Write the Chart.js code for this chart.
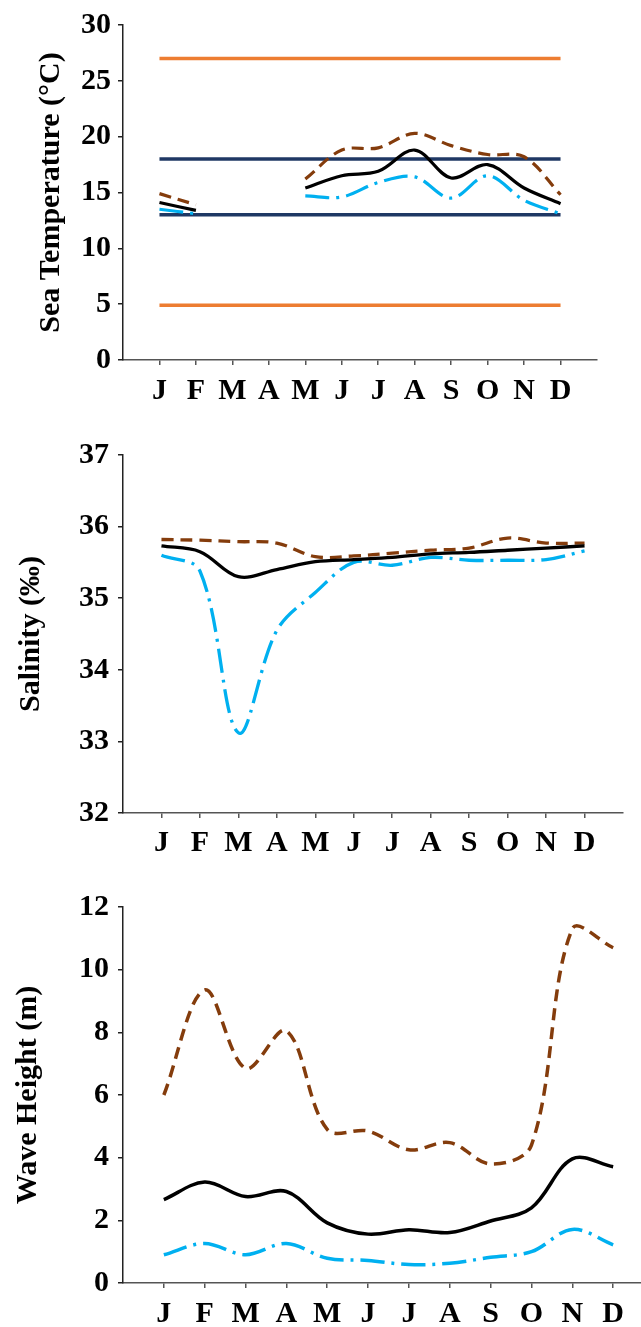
<!DOCTYPE html>
<html>
<head>
<meta charset="utf-8">
<script src="https://cdn.jsdelivr.net/npm/chart.js@4.4.1/dist/chart.umd.min.js"></script>
<style>
html, body { margin:0; padding:0; background:#fff; overflow:hidden; width:641px; height:1327px; }
canvas { position:absolute; left:0; }
</style>
</head>
<body>
<canvas id="tempChart" width="641" height="410" style="top:0"></canvas>
<canvas id="salChart" width="641" height="450" style="top:420px"></canvas>
<canvas id="waveChart" width="660" height="447" style="top:880px"></canvas>
<script>
const months = ["J","F","M","A","M","J","J","A","S","O","N","D"];

// sea temperature (°C), no data for March / April
const tempMax  = [14.9, 13.9, null, null, 16.2, 18.8, 19.0, 20.3, 19.2, 18.4, 18.2, 14.8];
const tempMean = [14.1, 13.4, null, null, 15.4, 16.5, 16.9, 18.8, 16.3, 17.5, 15.4, 14.0];
const tempMin  = [13.5, 13.1, null, null, 14.7, 14.6, 15.9, 16.4, 14.5, 16.5, 14.3, 13.1];
const orangeLimits = [27, 4.9];
const navyLimits = [18, 13];

// salinity (‰)
const salMax  = [35.82, 35.81, 35.79, 35.77, 35.58, 35.59, 35.63, 35.67, 35.70, 35.84, 35.77, 35.77];
const salMean = [35.73, 35.65, 35.30, 35.40, 35.51, 35.54, 35.57, 35.62, 35.64, 35.67, 35.70, 35.73];
const salMin  = [35.60, 35.38, 33.12, 34.55, 35.08, 35.50, 35.46, 35.57, 35.53, 35.53, 35.54, 35.66];

// wave height (m)
const waveMax  = [6.0, 9.35, 6.85, 8.05, 4.9, 4.85, 4.25, 4.48, 3.8, 4.4, 11.3, 10.7];
const waveMean = [2.66, 3.22, 2.76, 2.92, 1.92, 1.56, 1.70, 1.61, 1.98, 2.40, 3.96, 3.71];
const waveMin  = [0.90, 1.26, 0.90, 1.26, 0.79, 0.72, 0.59, 0.63, 0.82, 1.00, 1.71, 1.22];

const BROWN = "#843C0C";
const CYAN = "#00B0F0";
const ORANGE = "#ED7D31";
const NAVY = "#1F3864";
const FONT = "'Liberation Serif', 'Times New Roman', serif";

function pts(values){
    return values.map((v,i) => ({ x: i+1, y: v }));
}

function seriesSets(max, mean, min, w){
    return [
        { data: pts(mean), borderColor:"#000", borderWidth:w },
        { data: pts(max), borderColor:BROWN, borderWidth:w, borderDash:[12,7] },
        { data: pts(min), borderColor:CYAN, borderWidth:w, borderDash:[24,7,3,7] }
    ];
}

function limitLine(v, color){
    return { data:[{x:1,y:v},{x:12,y:v}], borderColor:color, borderWidth:3.5, tension:0 };
}

function makeChart(id, o){
    return new Chart(document.getElementById(id), {
        type:"line",
        data:{ datasets:o.datasets },
        options:{
            responsive:false,
            animation:false,
            spanGaps:false,
            layout:{ padding:{ top:o.top, right:o.right, left:0, bottom:0 } },
            elements:{
                point:{ radius:0 },
                line:{ tension:0.35, fill:false, borderCapStyle:"butt" }
            },
            plugins:{ legend:{ display:false }, tooltip:{ enabled:false } },
            scales:{
                x:{
                    type:"linear", min:0, max:13,
                    afterBuildTicks: (axis) => { axis.ticks = months.map((m,i) => ({ value:i+1 })); },
                    afterFit: (axis) => { axis.height = o.xHeight; },
                    ticks:{
                        autoSkip:false, maxRotation:0, padding:o.xPad,
                        color:"#000",
                        font:{ family:FONT, size:30, weight:"bold" },
                        callback: (v) => months[v-1]
                    },
                    grid:{ drawOnChartArea:false, drawTicks:true, tickLength:5, color:"#555", lineWidth:1.5 },
                    border:{ display:true, color:"#555", width:1.5 }
                },
                y:{
                    min:o.yMin, max:o.yMax,
                    afterFit: (axis) => { axis.width = 123; },
                    ticks:{
                        stepSize:o.step, padding:o.yPad, color:"#000",
                        font:{ family:FONT, size:30, weight:"bold" }
                    },
                    grid:{ drawOnChartArea:false, drawTicks:true, tickLength:5, color:"#222", lineWidth:1.5 },
                    border:{ display:true, color:"#222", width:1.5 },
                    title:{
                        display:true, text:o.title, color:"#000",
                        padding:{ top:o.titlePad, bottom:0 },
                        font:{ family:FONT, size:30, weight:"bold" }
                    }
                }
            }
        }
    });
}

makeChart("tempChart", {
    datasets: seriesSets(tempMax, tempMean, tempMin, 3.2).concat([
        limitLine(navyLimits[0], NAVY), limitLine(navyLimits[1], NAVY),
        limitLine(orangeLimits[0], ORANGE), limitLine(orangeLimits[1], ORANGE)
    ]),
    yMin:0, yMax:30, step:5, title:"Sea Temperature (°C)",
    top:21, right:44, xHeight:50, xPad:8, yPad:7, titlePad:33
});

makeChart("salChart", {
    datasets: seriesSets(salMax, salMean, salMin, 3.3),
    yMin:32, yMax:37, step:1, title:"Salinity (‰)",
    top:35, right:18, xHeight:57, xPad:7, yPad:9, titlePad:13
});

makeChart("waveChart", {
    datasets: seriesSets(waveMax, waveMean, waveMin, 3.5),
    yMin:0, yMax:12, step:2, title:"Wave Height (m)",
    top:22, right:6, xHeight:44, xPad:8, yPad:9, titlePad:10
});
</script>
</body>
</html>
